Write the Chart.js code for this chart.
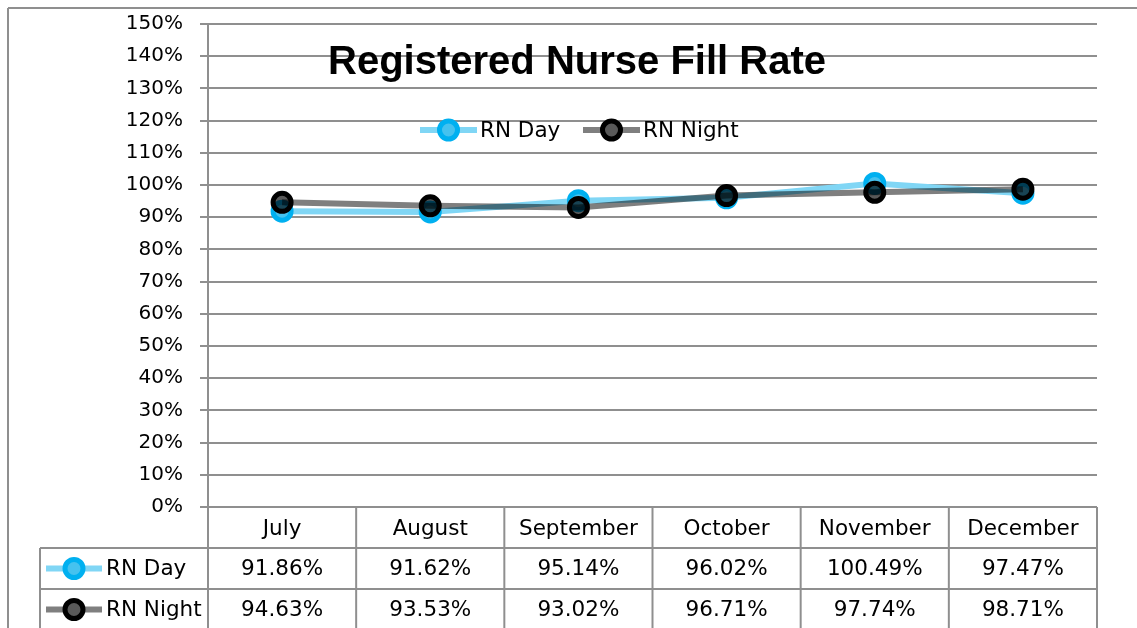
<!DOCTYPE html>
<html>
<head>
<meta charset="utf-8">
<title>Registered Nurse Fill Rate</title>
<script src="https://cdn.jsdelivr.net/npm/chart.js@4.4.1/dist/chart.umd.min.js"></script>
<style>
    html, body { margin: 0; padding: 0; background: #fff; }
    #fillChart { display: block; }
</style>
</head>
<body>
<canvas id="fillChart" width="1137" height="628"></canvas>
<script>
const chartTitle = 'Registered Nurse Fill Rate';
const months = ['July', 'August', 'September', 'October', 'November', 'December'];
const seriesNames = ['RN Day', 'RN Night'];
const rnDay = [91.86, 91.62, 95.14, 96.02, 100.49, 97.47];
const rnNight = [94.63, 93.53, 93.02, 96.71, 97.74, 98.71];
const yTicks = [0, 10, 20, 30, 40, 50, 60, 70, 80, 90, 100, 110, 120, 130, 140, 150];

const gridColor = '#8f8f8f';
const textFont = '"DejaVu Sans", sans-serif';

function drawSymbol(ctx, ds, x1, x2, y) {
    ctx.save();
    ctx.strokeStyle = ds.borderColor;
    ctx.lineWidth = ds.borderWidth;
    ctx.beginPath();
    ctx.moveTo(x1, y);
    ctx.lineTo(x2, y);
    ctx.stroke();
    ctx.beginPath();
    ctx.arc((x1 + x2) / 2, y, ds.pointRadius, 0, Math.PI * 2);
    ctx.fillStyle = '#fff';
    ctx.fill();
    ctx.fillStyle = ds.pointBackgroundColor;
    ctx.fill();
    ctx.lineWidth = ds.pointBorderWidth;
    ctx.strokeStyle = ds.pointBorderColor;
    ctx.stroke();
    ctx.restore();
}

function line(ctx, x1, y1, x2, y2) {
    ctx.beginPath();
    ctx.moveTo(x1, y1);
    ctx.lineTo(x2, y2);
    ctx.stroke();
}

// outer frame, title, legend and the data table under the plot
const excelBits = {
    id: 'excelBits',
    beforeDraw(chart) {
        const ctx = chart.ctx;
        ctx.save();
        ctx.strokeStyle = gridColor;
        ctx.lineWidth = 2;
        line(ctx, 8, 8, chart.width, 8);
        line(ctx, 8, 8, 8, chart.height);
        ctx.restore();
    },
    afterDraw(chart) {
        const ctx = chart.ctx;
        const area = chart.chartArea;
        const x = chart.scales.x;
        const cellW = (area.right - area.left) / months.length;
        const rowH = 41;
        const headBottom = area.bottom + rowH;
        const tableLeft = 40;
        const sets = chart.data.datasets;

        // table grid
        ctx.save();
        ctx.strokeStyle = gridColor;
        ctx.lineWidth = 2;
        for (let i = 0; i <= months.length; i++) {
            const px = area.left + i * cellW;
            line(ctx, px, area.bottom, px, chart.height);
        }
        line(ctx, tableLeft, headBottom, tableLeft, chart.height);
        line(ctx, tableLeft, headBottom, area.right, headBottom);
        line(ctx, tableLeft, headBottom + rowH, area.right, headBottom + rowH);
        ctx.restore();

        // table rows
        ctx.save();
        ctx.font = '21.5px ' + textFont;
        ctx.fillStyle = '#000';
        ctx.textBaseline = 'middle';
        sets.forEach((ds, r) => {
            const cy = headBottom + rowH * r + rowH / 2;
            drawSymbol(ctx, ds, 46, 102, cy);
            ctx.textAlign = 'left';
            ctx.fillText(ds.label, 106, cy + 1);
            ctx.textAlign = 'center';
            ds.data.forEach((v, i) => {
                ctx.fillText(v.toFixed(2) + '%', x.getPixelForValue(i), cy + 1);
            });
        });
        ctx.restore();

        // title
        ctx.save();
        ctx.font = 'bold 40px "Liberation Sans", sans-serif';
        ctx.fillStyle = '#000';
        ctx.textAlign = 'center';
        ctx.textBaseline = 'alphabetic';
        ctx.fillText(chartTitle, 577, 74);
        ctx.restore();

        // legend
        ctx.save();
        ctx.font = '21.5px ' + textFont;
        ctx.fillStyle = '#000';
        ctx.textAlign = 'left';
        ctx.textBaseline = 'middle';
        const legendX = [420, 583];
        sets.forEach((ds, i) => {
            drawSymbol(ctx, ds, legendX[i], legendX[i] + 57, 130);
            ctx.fillText(ds.label, legendX[i] + 60, 131);
        });
        ctx.restore();
    }
};

const ctx = document.getElementById('fillChart').getContext('2d');
const chart = new Chart(ctx, {
    type: 'line',
    data: {
        labels: months,
        datasets: [
            {
                label: seriesNames[0],
                data: rnDay,
                borderColor: '#80d6f5',
                borderWidth: 6,
                pointRadius: 9,
                pointHoverRadius: 9,
                pointBorderWidth: 5,
                pointBorderColor: '#00b0f0',
                pointBackgroundColor: '#45c2ef',
                tension: 0,
                order: 2
            },
            {
                label: seriesNames[1],
                data: rnNight,
                borderColor: 'rgba(0,0,0,0.5)',
                borderWidth: 6,
                pointRadius: 9,
                pointHoverRadius: 9,
                pointBorderWidth: 5,
                pointBorderColor: '#000',
                pointBackgroundColor: 'rgba(0,0,0,0.65)',
                tension: 0,
                order: 1
            }
        ]
    },
    options: {
        responsive: false,
        animation: false,
        layout: { padding: { top: 24, right: 40, left: 0, bottom: 0 } },
        plugins: {
            legend: { display: false },
            title: { display: false },
            tooltip: { enabled: false }
        },
        scales: {
            x: {
                offset: true,
                grid: { display: false },
                border: { display: false },
                ticks: { color: '#000', font: { family: textFont, size: 21.5 }, padding: 2, maxRotation: 0 },
                afterFit: (scale) => { scale.height = 121; }
            },
            y: {
                min: 0,
                max: 150,
                afterBuildTicks: (scale) => { scale.ticks = yTicks.map(v => ({ value: v })); },
                grid: { color: gridColor, lineWidth: 2, tickLength: 8 },
                border: { color: gridColor, width: 2 },
                ticks: {
                    color: '#000',
                    font: { family: textFont, size: 20 },
                    padding: 17,
                    callback: (v) => v + '%'
                },
                afterFit: (scale) => {
                    scale.width = 208;
                    // label padding would otherwise push the plot top down
                    scale.paddingTop = 12;
                    scale.paddingBottom = 12;
                }
            }
        }
    },
    plugins: [excelBits]
});
</script>
</body>
</html>
